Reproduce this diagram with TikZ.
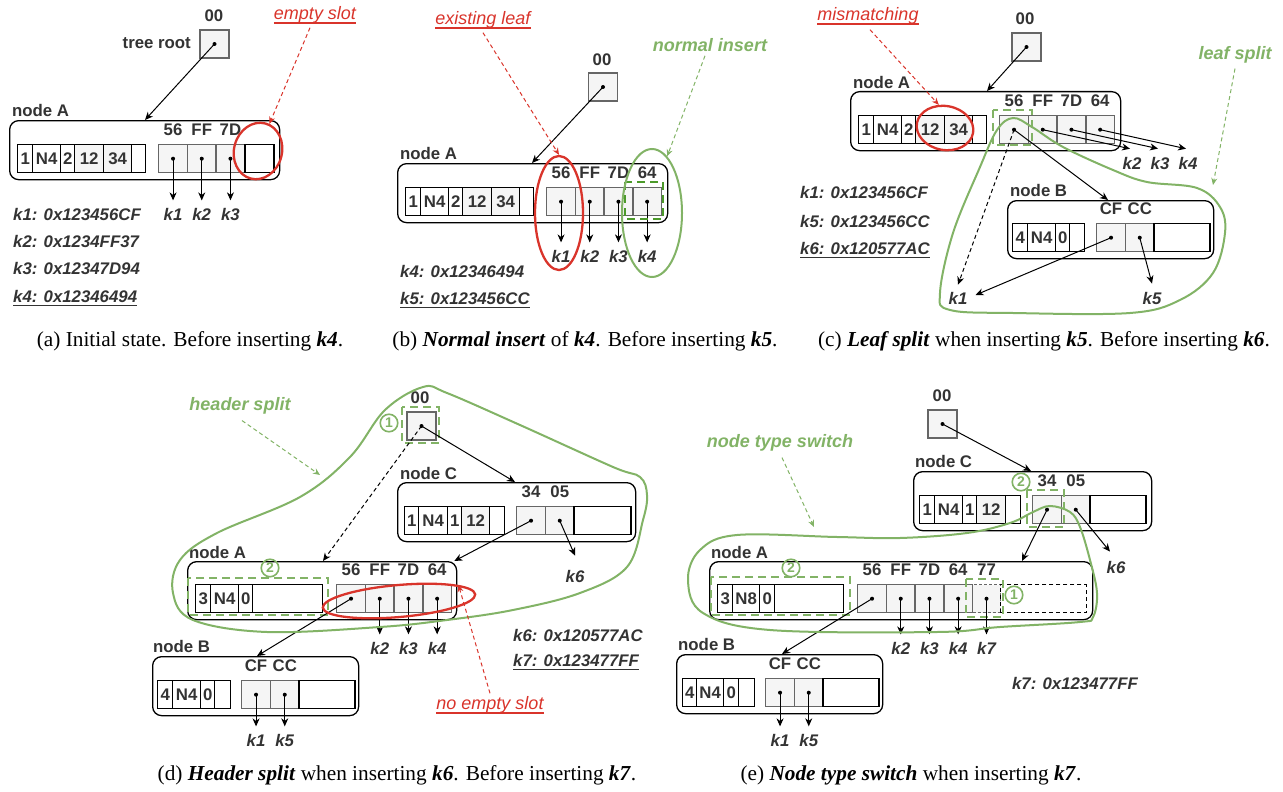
\documentclass[tikz,border=0pt]{standalone}
\usepackage{fontspec}
\setmainfont{Liberation Serif}
\setsansfont{Liberation Sans}
\usetikzlibrary{arrows.meta,calc,shapes.geometric}
\definecolor{txt}{HTML}{333333}
\definecolor{cellg}{HTML}{F5F5F5}
\definecolor{cellb}{HTML}{666666}
\definecolor{myred}{HTML}{D9342B}
\definecolor{mygreen}{HTML}{82B366}
\definecolor{dkgreen}{HTML}{4C9A2A}
\newcommand\dfont{\fontsize{16.8}{19}\selectfont\sffamily\bfseries}
\newcommand\afont{\fontsize{18}{21}\selectfont\sffamily}
\newcommand\cfont{\fontsize{21.3}{25}\selectfont\rmfamily}
\newcommand\myul[1]{\setbox0\hbox{#1}\rlap{\vrule width\wd0 height -2.5pt depth 4pt}\box0}
\tikzset{
  lbl/.style={font=\dfont, text=txt, inner sep=0pt},
  klbl/.style={font=\dfont\itshape, text=txt, inner sep=0pt},
  keyl/.style={klbl, anchor=west},
  outerbox/.style={draw=black, line width=1.3pt, rounded corners=9pt, anchor=north west, inner sep=0pt},
  cellbase/.style={anchor=north west, minimum height=28pt, inner sep=0pt, line width=1.4pt, font=\dfont, text=txt},
  hcell/.style={cellbase, draw=black},
  gcell/.style={cellbase, draw=cellb, fill=cellg, minimum width=28.7pt},
  rootbox/.style={draw=cellb, fill=cellg, line width=1.3pt, minimum width=29pt, minimum height=28pt, inner sep=0pt},
  ptr/.style={draw=black, line width=1pt, -{Stealth[length=8pt,width=7pt,inset=2.5pt]}},
  dptr/.style={ptr, dash pattern=on 4pt off 3pt},
  redlab/.style={font=\afont\itshape, text=myred, inner sep=0pt},
  grnlab/.style={font=\afont\bfseries\itshape, text=mygreen, inner sep=0pt},
  redarr/.style={draw=myred, line width=1pt, dash pattern=on 4pt off 3pt, -{Stealth[length=7pt,width=6pt]}},
  grnarr/.style={draw=mygreen, line width=1pt, dash pattern=on 4pt off 3pt, -{Stealth[length=7pt,width=6pt]}},
  redell/.style={ellipse, draw=myred, line width=2.3pt, inner sep=0pt},
  grnell/.style={ellipse, draw=mygreen, line width=2pt, inner sep=0pt},
  gdash/.style={draw=mygreen, line width=2.5pt, dash pattern=on 8pt off 5pt},
  blob/.style={draw=mygreen, line width=2pt},
  cnum/.style={circle, draw=mygreen, line width=1.6pt, text=mygreen, font=\fontsize{14}{14}\selectfont\sffamily\bfseries, inner sep=0pt, minimum size=17.5pt},
  captxt/.style={font=\cfont, text=black, inner sep=0pt},
}
% header cells: prefix, y top, list xa/xb/text/fill
\newcommand\hdr[3]{\foreach \xa/\xb/\t/\f [count=\n] in {#3}
  \node[hcell, fill=\f, minimum width=\xb-\xa] (#1H\n) at (\xa,#2) {\t};}
% child cells: prefix, x0, y top, labels
\newcommand\kids[4]{\foreach \lab [count=\n] in {#4} {
  \node[gcell] (#1C\n) at ({#2+(\n-1)*28.7},#3) {};
  \node[lbl] (#1L\n) at ($(#1C\n.north)+(0,-14)$) {\lab};}}
\newcommand\dotat[1]{\fill (#1) circle (2pt);}
\begin{document}
\begin{tikzpicture}[x=1pt,y=-1pt]
\useasboundingbox (0,0) rectangle (1283,792);

% ================= (a)
\node[rootbox] (aR) at (214.5,44) {};
\node[lbl] (a00) at (214,16) {00};
\node[lbl, anchor=east] (aTR) at (191,43) {tree root};
\node[lbl, anchor=west] (aAl) at (12,110) {node A};
\node[outerbox, minimum width=270pt, minimum height=59pt] (aA) at (9,120) {};
\hdr{a}{144}{17/32/1/white, 32/60/N4/white, 60/74/2/white, 74/103/12/cellg, 103/131/34/cellg, 131/145//white}
\kids{a}{158}{144}{56,FF,7D}
\node[hcell, fill=white, minimum width=29pt] (aC4) at (244.1,144) {};
\foreach \n in {1,2,3} {
  \node[klbl] (ak\n) at ($(aC\n.center)+(0,56)$) {k\n};
  \dotat{aC\n.center}
  \draw[ptr] (aC\n.center) -- ($(ak\n.north)+(0,-8)$);
}
\draw[ptr] (aR.center) -- ($(aA.north west)+(136,0)$); \dotat{aR.center}
\node[redell, minimum width=48pt, minimum height=57pt, rotate=-15] (aE) at (258,151) {};
\node[redlab] (aES) at (315,15) {\myul{empty slot}};
\draw[redarr] ($(aES.south)+(-5,4)$) -- (aE);
\node[keyl] (akey1) at (13,214) {k1: 0x123456CF};
\node[keyl] (akey2) at (13,241) {k2: 0x1234FF37};
\node[keyl] (akey3) at (13,268) {k3: 0x12347D94};
\node[keyl] (akey4) at (13,298) {\myul{k4: 0x12346494}};

% ================= (b)
\node[rootbox] (bR) at (603,87) {};
\node[lbl] (b00) at (602,60) {00};
\node[lbl, anchor=west] (bAl) at (400,153) {node A};
\node[outerbox, minimum width=270pt, minimum height=59pt] (bA) at (397,163) {};
\hdr{b}{187}{405/420/1/white, 420/448/N4/white, 448/462/2/white, 462/491/12/cellg, 491/519/34/cellg, 519/533//white}
\kids{b}{546}{187}{56,FF,7D,64}
\foreach \n in {1,2,3,4} {
  \node[klbl] (bk\n) at ($(bC\n.center)+(0,55)$) {k\n};
  \dotat{bC\n.center}
  \draw[ptr] (bC\n.center) -- ($(bk\n.north)+(0,-8)$);
}
\draw[ptr] (bR.center) -- ($(bA.north west)+(135,0)$); \dotat{bR.center}
\draw[gdash, draw=dkgreen] (625,182) rectangle (663,219);
\node[redell, minimum width=48pt, minimum height=114pt] (bE) at (559,213) {};
\node[grnell, minimum width=60pt, minimum height=128pt] (bG) at (652,213) {};
\node[redlab] (bEL) at (483,20) {\myul{existing leaf}};
\draw[redarr] ($(bEL.south)+(0,4)$) -- (bE.north);
\node[grnlab] (bNI) at (710,45) {normal insert};
\draw[grnarr] ($(bNI.south)+(-5,4)$) -- (bG.75);
\node[keyl] (bkey1) at (400,271) {k4: 0x12346494};
\node[keyl] (bkey2) at (400,300) {\myul{k5: 0x123456CC}};

% ================= (c)
\node[rootbox] (cR) at (1026.5,47) {};
\node[lbl] (c00) at (1025,19) {00};
\node[lbl, anchor=west] (cAl) at (853,82) {node A};
\node[outerbox, minimum width=270pt, minimum height=59pt] (cA) at (850,91) {};
\hdr{c}{115}{858/873/1/white, 873/901/N4/white, 901/915/2/white, 915/944/12/cellg, 944/972/34/cellg, 972/986//white}
\kids{c}{999}{115}{56,FF,7D,64}
\draw[ptr] (cR.center) -- ($(cA.north west)+(137,0)$); \dotat{cR.center}
\node[klbl] (ck2) at (1132,163) {k2};
\node[klbl] (ck3) at (1160,163) {k3};
\node[klbl] (ck4) at (1188,163) {k4};
\foreach \n in {2,3,4} {
  \dotat{cC\n.center}
  \draw[ptr] (cC\n.center) -- ($(ck\n.north)+(-2,-8)$);
}
\node[lbl, anchor=west] (cBl) at (1010,190) {node B};
\node[outerbox, minimum width=206pt, minimum height=58pt] (cB) at (1007,200) {};
\hdr{cb}{223}{1012/1027/4/white, 1027/1055/N4/white, 1055/1069/0/white, 1069/1084//white}
\kids{cb}{1096}{223}{CF,CC}
\node[hcell, fill=white, minimum width=56pt] (cbC3) at (1153.4,223) {};
\node[klbl] (ck1) at (958,298) {k1};
\node[klbl] (ck5) at (1152,298) {k5};
\dotat{cC1.center}
\draw[ptr] (cC1.center) -- ($(cB.north west)+(101,0)$);
\draw[dptr] (cC1.center) -- ($(ck1.north)+(0,-7)$);
\dotat{cbC1.center}\dotat{cbC2.center}
\draw[ptr] (cbC1.center) -- ($(ck1.east)+(8,-3)$);
\draw[ptr] (cbC2.center) -- ($(ck5.north)+(0,-8)$);
\draw[gdash] (993,110) rectangle (1032,145);
\node[redell, minimum width=57pt, minimum height=44pt, rotate=-10] (cE) at (945,128) {};
\draw[blob] plot[smooth cycle, tension=0.6] coordinates {(1013,118) (1032,127) (1063,147) (1113,170) (1147,182) (1197,188) (1220,207) (1225,233) (1213,273) (1180,300) (1130,313) (1013,313) (950,310) (940,293) (953,233) (980,167) (997,130)};
\node[redlab] (cMM) at (868,16) {\myul{mismatching}};
\draw[redarr] ($(cMM.south)+(2,5)$) -- (cE.115);
\node[grnlab] (cLS) at (1235,55) {leaf split};
\coordinate (cLSt) at (1213,185);
\draw[grnarr] ($(cLS.south)+(0,5)$) -- (cLSt);
\node[keyl] (ckey1) at (800,192) {k1: 0x123456CF};
\node[keyl] (ckey2) at (800,221) {k5: 0x123456CC};
\node[keyl] (ckey3) at (800,250) {\myul{k6: 0x120577AC}};

% ================= (d)
\node[rootbox] (dR) at (421.5,426) {};
\node[lbl] (d00) at (420,398) {00};
\draw[gdash] (402,407) rectangle (439,443);
\node[cnum] (dn1) at (389,423) {1};
\node[lbl, anchor=west] (dCl) at (400,473) {node C};
\node[outerbox, minimum width=238pt, minimum height=59pt] (dC) at (397,482) {};
\hdr{dc}{506}{404/418/1/white, 418/447/N4/white, 447/461/1/white, 461/489/12/cellg, 489/504//white}
\kids{dc}{516}{506}{34,05}
\node[hcell, fill=white, minimum width=57pt] (dcC3) at (573.4,506) {};
\node[lbl, anchor=west] (dAl) at (189,552) {node A};
\node[outerbox, minimum width=269pt, minimum height=58pt] (dA) at (187,561) {};
\hdr{d}{584}{195/210/3/white, 210/238/N4/white, 238/252/0/white, 252/322//white}
\kids{d}{336}{584}{56,FF,7D,64}
\draw[gdash] (188,578) rectangle (328,615);
\node[cnum] (dn2) at (270,568) {2};
\node[lbl, anchor=west] (dBl) at (153,646) {node B};
\node[outerbox, minimum width=206pt, minimum height=59pt] (dB) at (152,656) {};
\hdr{db}{680}{157/172/4/white, 172/200/N4/white, 200/214/0/white, 214/230//white}
\kids{db}{241}{680}{CF,CC}
\node[hcell, fill=white, minimum width=56pt] (dbC3) at (298.4,680) {};
\node[klbl] (dk6) at (575,576) {k6};
\foreach \n in {2,3,4} {
  \node[klbl] (dk\n) at ($(dC\n.center)+(0,50)$) {k\n};
  \dotat{dC\n.center}
  \draw[ptr] (dC\n.center) -- ($(dk\n.north)+(0,-8)$);
}
\node[klbl] (dk1) at ($(dbC1.center)+(0,46)$) {k1};
\node[klbl] (dk5) at ($(dbC2.center)+(0,46)$) {k5};
\dotat{dbC1.center}\dotat{dbC2.center}
\draw[ptr] (dbC1.center) -- ($(dk1.north)+(0,-8)$);
\draw[ptr] (dbC2.center) -- ($(dk5.north)+(0,-8)$);
\dotat{dR.center}
\draw[ptr] (dR.center) -- ($(dC.north west)+(118,0)$);
\draw[dptr] (dR.center) -- ($(dA.north west)+(136,0)$);
\dotat{dcC1.center}\dotat{dcC2.center}
\draw[ptr] (dcC1.center) -- ($(dA.north east)+(-3,0)$);
\draw[ptr] (dcC2.center) -- ($(dk6.north)+(0,-14)$);
\dotat{dC1.center}
\draw[ptr] (dC1.center) -- ($(dB.north west)+(105,0)$);
\node[redell, minimum width=153pt, minimum height=32pt, rotate=5] (dE) at (399,601) {};
\draw[blob] plot[smooth cycle, tension=0.6] coordinates {(423,387) (447,393) (520,425) (613,467) (640,477) (647,495) (643,520) (627,567) (580,593) (513,610) (447,620) (380,627) (267,632) (193,620) (173,593) (180,560) (217,533) (300,497) (350,457) (385,410)};
\node[grnlab] (dHS) at (240,406) {header split};
\coordinate (dHSt) at (320,475);
\draw[grnarr] ($(dHS.south)+(2,6)$) -- (dHSt);
\node[redlab] (dNE) at (490,705) {\myul{no empty slot}};
\draw[redarr] ($(dNE.north)+(0,-3)$) -- (dE.10);
\node[keyl] (dkey1) at (513,635) {k6: 0x120577AC};
\node[keyl] (dkey2) at (513,662) {\myul{k7: 0x123477FF}};

% ================= (e)
\node[rootbox] (eR) at (942.5,424) {};
\node[lbl] (e00) at (942,396) {00};
\node[lbl, anchor=west] (eCl) at (915,461) {node C};
\node[outerbox, minimum width=238pt, minimum height=59pt] (eC) at (913,471) {};
\hdr{ec}{495}{919/934/1/white, 934/962/N4/white, 962/976/1/white, 976/1005/12/cellg, 1005/1020//white}
\kids{ec}{1032}{495}{34,05}
\node[hcell, fill=white, minimum width=56pt] (ecC3) at (1089.4,495) {};
\draw[gdash] (1027,490) rectangle (1064,527);
\node[cnum] (en2c) at (1021,482) {2};
\node[lbl, anchor=west] (eAl) at (711,552) {node A};
\node[outerbox, minimum width=383pt, minimum height=58pt] (eA) at (709,561) {};
\hdr{e}{584}{717/732/3/white, 732/759/N8/white, 759/774/0/white, 774/843//white}
\kids{e}{857}{584}{56,FF,7D,64}
\node[cellbase, draw=cellb, fill=cellg, dash pattern=on 3pt off 2pt, minimum width=28pt] (eC5) at (971.8,584) {};
\node[lbl] (eL5) at ($(eC5.north)+(0,-14)$) {77};
\node[cellbase, draw=black, dash pattern=on 4pt off 3pt, line width=1.1pt, minimum width=86pt] (eC6) at (999.8,584) {};
\draw[gdash] (711,577) rectangle (850,615);
\node[cnum] (en2a) at (791,568) {2};
\draw[gdash] (966,579) rectangle (1003,617);
\node[cnum] (en1) at (1014,595) {1};
\node[lbl, anchor=west] (eBl) at (678,644) {node B};
\node[outerbox, minimum width=206pt, minimum height=59pt] (eB) at (676,654) {};
\hdr{eb}{678}{682/696/4/white, 696/723/N4/white, 723/738/0/white, 738/754//white}
\kids{eb}{765}{678}{CF,CC}
\node[hcell, fill=white, minimum width=56pt] (ebC3) at (822.4,678) {};
\node[klbl] (ek6) at (1116,567) {k6};
\foreach \n/\k in {2/2,3/3,4/4,5/7} {
  \node[klbl] (ek\k) at ($(eC\n.center)+(0,50)$) {k\k};
  \dotat{eC\n.center}
  \draw[ptr] (eC\n.center) -- ($(ek\k.north)+(0,-8)$);
}
\node[klbl] (ek1) at ($(ebC1.center)+(0,48)$) {k1};
\node[klbl] (ek5) at ($(ebC2.center)+(0,48)$) {k5};
\dotat{ebC1.center}\dotat{ebC2.center}
\draw[ptr] (ebC1.center) -- ($(ek1.north)+(0,-8)$);
\draw[ptr] (ebC2.center) -- ($(ek5.north)+(0,-8)$);
\dotat{eR.center}
\draw[ptr] (eR.center) -- ($(eC.north west)+(118,0)$);
\dotat{ecC1.center}\dotat{ecC2.center}
\draw[ptr] (ecC1.center) -- ($(eA.north west)+(313,0)$);
\draw[ptr] (ecC2.center) -- ($(ek6.north)+(-6,-9)$);
\dotat{eC1.center}
\draw[ptr] (eC1.center) -- ($(eB.north west)+(106,0)$);
\draw[blob] plot[smooth cycle, tension=0.6] coordinates {(1050,506) (1070,512) (1080,527) (1090,560) (1097,593) (1093,617) (1080,622) (1000,627) (937,632) (770,630) (703,613) (688,580) (700,550) (737,535) (837,537) (900,538) (967,533) (1010,523) (1033,512)};
\node[grnlab] (eNTS) at (780,443) {node type switch};
\coordinate (eNTSt) at (814,527);
\draw[grnarr] ($(eNTS.south)+(2,6)$) -- (eNTSt);
\node[klbl] (ekey1) at (1075,683) {k7: 0x123477FF};

% ================= captions
\node[captxt] (capa) at (190,341) {(a) Initial state. Before inserting \textbf{\textit{k4}}.};
\node[captxt] (capb) at (585,341) {(b) \textbf{\textit{Normal insert}} of \textbf{\textit{k4}}. Before inserting \textbf{\textit{k5}}.};
\node[captxt] (capc) at (1044,341) {(c) \textbf{\textit{Leaf split}} when inserting \textbf{\textit{k5}}. Before inserting \textbf{\textit{k6}}.};
\node[captxt] (capd) at (397,775) {(d) \textbf{\textit{Header split}} when inserting \textbf{\textit{k6}}. Before inserting \textbf{\textit{k7}}.};
\node[captxt] (cape) at (911,775) {(e) \textbf{\textit{Node type switch}} when inserting \textbf{\textit{k7}}.};
\end{tikzpicture}
\end{document}
